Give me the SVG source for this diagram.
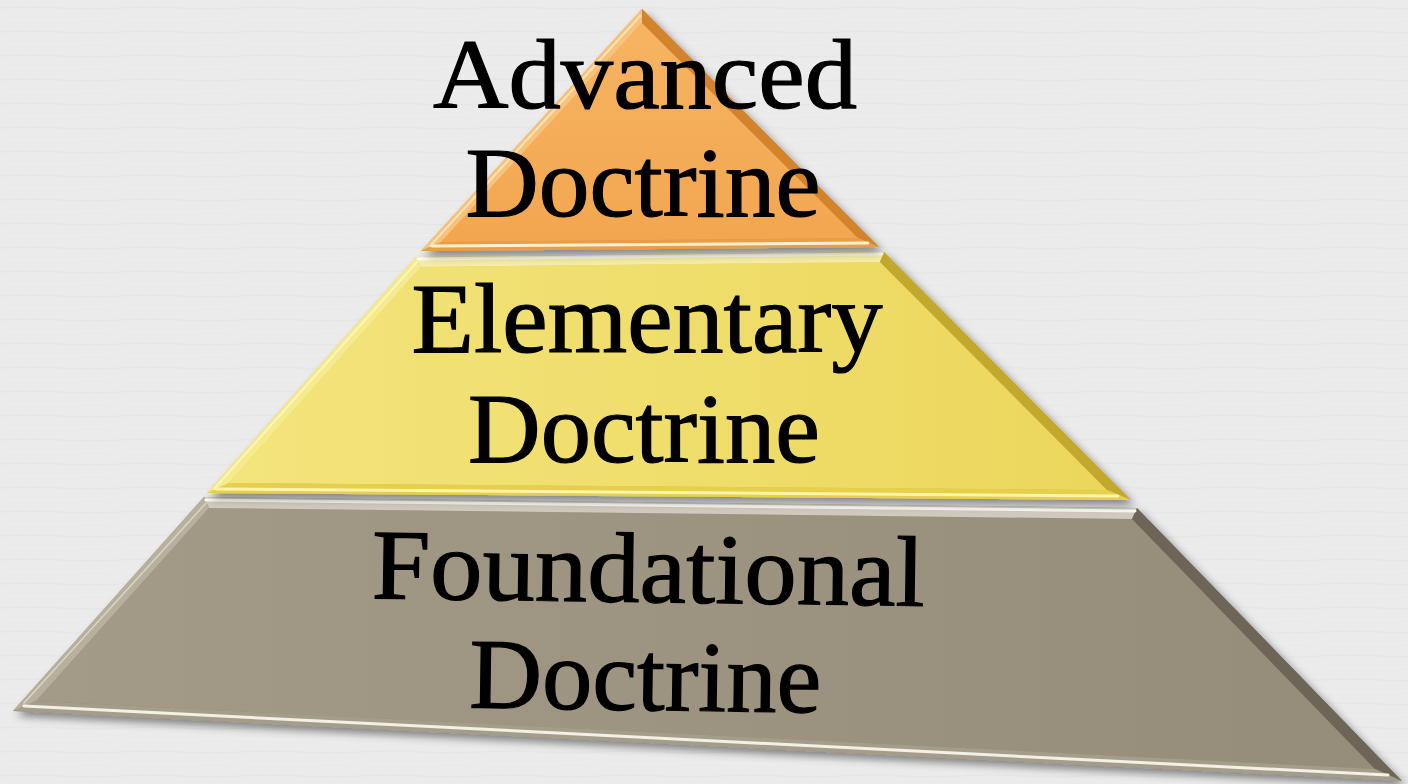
<svg xmlns="http://www.w3.org/2000/svg" width="1408" height="784" viewBox="0 0 1408 784">
  <defs>
    <filter id="shadow" x="-10%" y="-10%" width="120%" height="130%">
      <feDropShadow dx="4" dy="5" stdDeviation="4" flood-color="#000" flood-opacity="0.45"/>
    </filter>
    <linearGradient id="gOrange" x1="0" y1="0" x2="0" y2="1">
      <stop offset="0" stop-color="#f6b462"/>
      <stop offset="1" stop-color="#f3a650"/>
    </linearGradient>
    <linearGradient id="gYellow" x1="0" y1="0" x2="1" y2="0">
      <stop offset="0" stop-color="#f3e47c"/>
      <stop offset="1" stop-color="#ecd75c"/>
    </linearGradient>
    <linearGradient id="gGray" x1="0" y1="0" x2="1" y2="0">
      <stop offset="0" stop-color="#a39b88"/>
      <stop offset="1" stop-color="#958d7a"/>
    </linearGradient>
    <pattern id="paper" width="120" height="24" patternUnits="userSpaceOnUse">
      <rect width="120" height="24" fill="#ebebeb"/>
      <path d="M0 8 Q30 6 60 8 T120 8" stroke="#e7e7e7" stroke-width="1.5" fill="none"/>
      <path d="M0 19 Q40 21 80 19 T120 19" stroke="#efefef" stroke-width="1.2" fill="none"/>
    </pattern>
  </defs>
  <style>
    .lbl { font-family: "Liberation Serif", "Times New Roman", serif; font-size: 100px; fill: #000; stroke: #000; stroke-width: 1.2px; text-anchor: middle; }
    .hl { fill: none; stroke-linecap: round; }
  </style>

  <rect width="1408" height="784" fill="url(#paper)"/>

  <!-- Foundational band -->
  <g id="foundational">
    <g filter="url(#shadow)">
      <polygon points="204,497 1137,508 1402,781 13,711" fill="#8f8775"/>
    </g>
    <polygon points="209,508 1132,519 1375,769 36,701" fill="url(#gGray)"/>
    <polygon points="204,497 1137,508 1132,519 209,508" fill="#cfcabd"/>
    <polygon points="204,497 209,508 36,701 13,711" fill="#b7b09d"/>
    <polygon points="1137,508 1402,781 1375,769 1132,519" fill="#6d6658"/>
    <polygon points="13,711 36,701 1375,769 1402,781" fill="#a49d8a"/>
    <polyline class="hl" points="206,500 1135,511" stroke="#fbfaf5" stroke-width="3"/>
    <polyline class="hl" points="24,706 1388,775" stroke="#f3f0e6" stroke-width="3"/>
    <polyline class="hl" points="206,503 24,703" stroke="#d9d4c6" stroke-width="1.5"/>
    <text class="lbl" x="648" y="602" textLength="553" lengthAdjust="spacingAndGlyphs" transform="rotate(0.8 648 602)">Foundational</text>
    <text class="lbl" x="645" y="710" textLength="352" lengthAdjust="spacingAndGlyphs" transform="rotate(0.8 645 710)">Doctrine</text>
  </g>

  <!-- Elementary band -->
  <g id="elementary">
    <g filter="url(#shadow)">
      <polygon points="416,257 884,252 1131,500 207,493" fill="#d9c24a"/>
    </g>
    <polygon points="421,267 880,262 1107,490 229,483" fill="url(#gYellow)"/>
    <polygon points="416,257 884,252 880,262 421,267" fill="#f5eda6"/>
    <polygon points="416,257 421,267 229,483 207,493" fill="#f6eb8c"/>
    <polygon points="884,252 1131,500 1107,490 880,262" fill="#c2a82c"/>
    <polygon points="207,493 229,483 1107,490 1131,500" fill="#e6cf4c"/>
    <polyline class="hl" points="418,259 882,254" stroke="#fffdf0" stroke-width="3"/>
    <polyline class="hl" points="216,489 1118,496" stroke="#fff4a8" stroke-width="3"/>
    <polyline class="hl" points="417,262 214,489" stroke="#fdf6c4" stroke-width="1.5"/>
    <text class="lbl" x="647" y="352" textLength="471" lengthAdjust="spacingAndGlyphs">Elementary</text>
    <text class="lbl" x="644" y="462" textLength="352" lengthAdjust="spacingAndGlyphs">Doctrine</text>
  </g>

  <!-- Advanced band -->
  <g id="advanced">
    <g filter="url(#shadow)">
      <polygon points="642,9 879,247 421,251" fill="#e29540"/>
    </g>
    <polygon points="642,23 858,238 441,242" fill="url(#gOrange)"/>
    <polygon points="642,9 642,23 441,242 421,251" fill="#f7c27a"/>
    <polygon points="642,9 879,247 858,238 642,23" fill="#d2832c"/>
    <polygon points="421,251 441,242 858,238 879,247" fill="#ea9d46"/>
    <polyline class="hl" points="641,15 430,246" stroke="#fde2b4" stroke-width="2"/>
    <polyline class="hl" points="432,246 868,243" stroke="#fff0d2" stroke-width="3"/>
    <text class="lbl" x="645" y="108" textLength="424" lengthAdjust="spacingAndGlyphs">Advanced</text>
    <text class="lbl" x="643" y="216" textLength="355" lengthAdjust="spacingAndGlyphs">Doctrine</text>
  </g>
</svg>
